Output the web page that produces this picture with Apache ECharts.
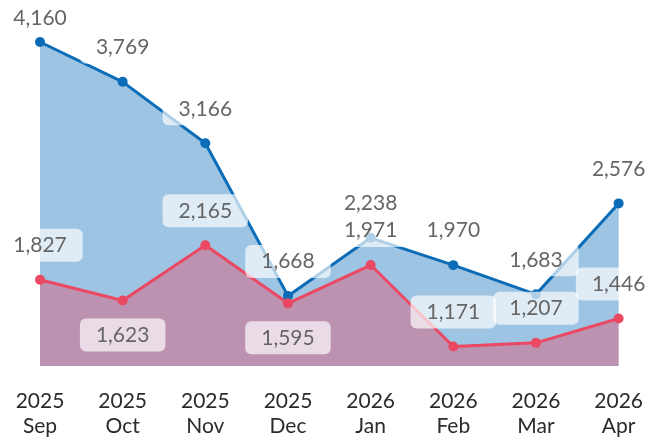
<!DOCTYPE html>
<html>
<head>
<meta charset="utf-8">
<style>
html,body{margin:0;padding:0;background:#fff;}
#chart{width:646px;height:440px;}
</style>
<script src="https://cdn.jsdelivr.net/npm/echarts@6/dist/echarts.min.js"></script>
</head>
<body>
<div id="chart"></div>
<script>
const categories = ['2025\nSep','2025\nOct','2025\nNov','2025\nDec','2026\nJan','2026\nFeb','2026\nMar','2026\nApr'];
const blueValues = [4160, 3769, 3166, 1668, 2238, 1970, 1683, 2576];
const redValues = [1827, 1623, 2165, 1595, 1971, 1171, 1207, 1446];
const redLabelSide = ['top','bottom','top','bottom','top','top','top','top'];

const BLUE = '#0b6cb8';
const RED = '#eb4863';

const labelStyle = {
  show: true,
  fontFamily: 'Lato',
  fontSize: 21,
  lineHeight: 21,
  color: '#666',
  backgroundColor: 'rgba(255,255,255,0.68)',
  borderRadius: 6,
  padding: [6, 16],
  distance: 13,
  formatter: p => Number(p.value).toLocaleString('en-US')
};

const chart = echarts.init(document.getElementById('chart'), null, {renderer: 'canvas'});
chart.setOption({
  animation: false,
  grid: {left: 40, right: 25, top: 42, bottom: 74, containLabel: false},
  xAxis: {
    type: 'category',
    data: categories,
    boundaryGap: false,
    axisLine: {show: false},
    axisTick: {show: false},
    splitLine: {show: false},
    axisLabel: {
      interval: 0,
      fontFamily: 'Lato',
      fontSize: 21,
      lineHeight: 25,
      color: '#2b2b2b',
      margin: 23
    }
  },
  yAxis: {
    type: 'value',
    min: 980,
    max: 4160,
    show: false
  },
  labelLayout: function (params) {
    const r = params.labelRect;
    if (r.y < 2) return {dy: 2 - r.y};
    return {};
  },
  series: [
    {
      type: 'line',
      data: blueValues,
      color: BLUE,
      symbol: 'circle',
      symbolSize: 10,
      lineStyle: {width: 3, color: BLUE},
      itemStyle: {color: BLUE},
      areaStyle: {color: BLUE, opacity: 0.4},
      label: Object.assign({}, labelStyle, {position: 'top'})
    },
    {
      type: 'line',
      data: redValues.map((v, i) => ({value: v, label: {position: redLabelSide[i]}})),
      color: RED,
      symbol: 'circle',
      symbolSize: 10,
      lineStyle: {width: 3, color: RED},
      itemStyle: {color: RED},
      areaStyle: {color: RED, opacity: 0.4},
      label: Object.assign({}, labelStyle)
    }
  ]
});
</script>
</body>
</html>
